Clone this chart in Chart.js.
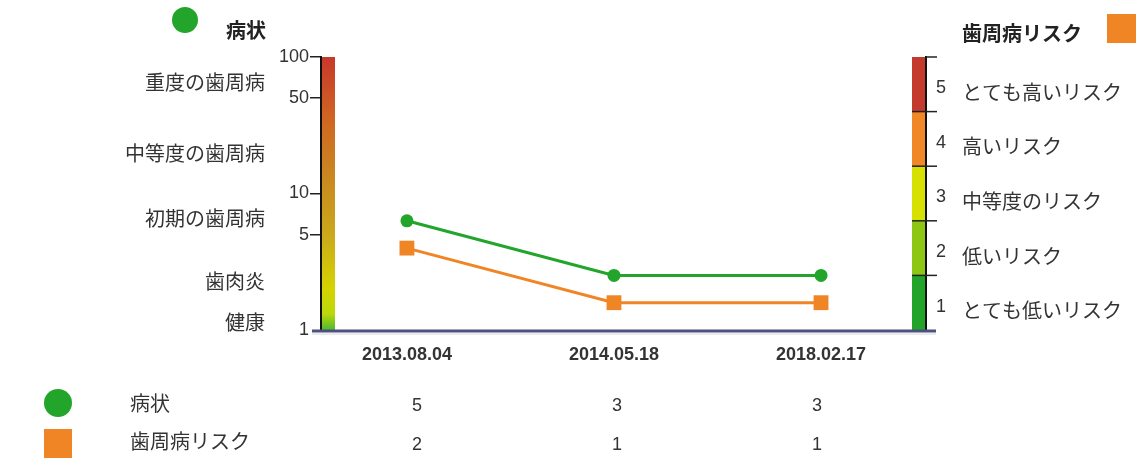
<!DOCTYPE html>
<html lang="ja">
  <head>
    <meta charset="UTF-8">
    <title>病状と歯周病リスク</title>
    <script src="https://cdn.jsdelivr.net/npm/chart.js"></script>
    <style>
      html, body { margin: 0; padding: 0; background: #ffffff; }
      #chart { display: block; }
    </style>
  </head>
  <body>
    <canvas id="chart" width="1144" height="468"></canvas>
    <script>
      // data
      const dates = ["2013.08.04", "2014.05.18", "2018.02.17"];
      const conditionValues = [5, 3, 3];
      const riskValues = [2, 1, 1];
      const conditionTicks = [1, 5, 10, 50, 100];
      const riskTicks = [1, 2, 3, 4, 5];
      const stageLabels = ["健康", "歯肉炎", "初期の歯周病", "中等度の歯周病", "重度の歯周病"];
      const stageLevels = [1.2, 2.7, 5, 7.4, 10];
      const riskLabels = ["とても低いリスク", "低いリスク", "中等度のリスク", "高いリスク", "とても高いリスク"];

      const GREEN = "#22a52a";
      const ORANGE = "#f08526";
      const riskColors = ["#22a42a", "#8dc714", "#d6e100", "#f08828", "#c43b2d"];
      const FONT = '"Liberation Sans", "Noto Sans CJK JP", sans-serif';

      Chart.defaults.font.family = FONT;
      Chart.defaults.color = "#333";

      const decor = {
        id: "decor",
        beforeDatasetsDraw(chart) {
          const { ctx, chartArea: a, scales } = chart;
          const yR = scales.yR;
          ctx.save();

          // left gradient bar
          const g = ctx.createLinearGradient(0, a.bottom, 0, a.top);
          g.addColorStop(0, "#4fb830");
          g.addColorStop(0.06, "#bcd80c");
          g.addColorStop(0.15, "#d4d400");
          g.addColorStop(0.35, "#cba81c");
          g.addColorStop(0.55, "#c98a20");
          g.addColorStop(0.75, "#cf6a22");
          g.addColorStop(1, "#c8382b");
          ctx.fillStyle = g;
          ctx.fillRect(a.left + 1, a.top, 13, a.bottom - a.top);

          // right risk bands
          riskTicks.forEach((n, i) => {
            const top = yR.getPixelForValue(n + 0.5);
            const bot = yR.getPixelForValue(n - 0.5);
            ctx.fillStyle = riskColors[i];
            ctx.fillRect(a.right - 14, top, 13, bot - top);
          });
          ctx.strokeStyle = "#222";
          ctx.lineWidth = 1.5;
          for (let v = 1.5; v < 5.5; v++) {
            const y = yR.getPixelForValue(v);
            ctx.beginPath();
            ctx.moveTo(a.right - 14, y);
            ctx.lineTo(a.right + 11, y);
            ctx.stroke();
          }
          ctx.beginPath();
          ctx.moveTo(a.right, a.top);
          ctx.lineTo(a.right + 11, a.top);
          ctx.stroke();

          // bottom axis line
          ctx.strokeStyle = "rgba(0,0,0,0.08)";
          ctx.lineWidth = 2;
          ctx.beginPath();
          ctx.moveTo(a.left - 9, a.bottom + 4);
          ctx.lineTo(a.right + 10, a.bottom + 4);
          ctx.stroke();
          ctx.strokeStyle = "#4f5082";
          ctx.lineWidth = 3;
          ctx.beginPath();
          ctx.moveTo(a.left - 9, a.bottom + 1);
          ctx.lineTo(a.right + 10, a.bottom + 1);
          ctx.stroke();
          ctx.restore();
        },
        afterDraw(chart) {
          const { ctx, chartArea: a, scales } = chart;
          ctx.save();
          ctx.textBaseline = "middle";

          // headers
          ctx.fillStyle = GREEN;
          ctx.beginPath();
          ctx.arc(185, 20, 13, 0, Math.PI * 2);
          ctx.fill();
          ctx.fillStyle = ORANGE;
          ctx.fillRect(1107, 14, 29, 29);
          ctx.fillStyle = "#222";
          ctx.font = "bold 20px " + FONT;
          ctx.textAlign = "left";
          ctx.fillText("病状", 226, 32);
          ctx.fillText("歯周病リスク", 962, 35);

          // stage names on the left
          ctx.font = "20px " + FONT;
          ctx.fillStyle = "#333";
          ctx.textAlign = "right";
          stageLabels.forEach((s, i) => {
            ctx.fillText(s, a.left - 56, scales.yG.getPixelForValue(stageLevels[i]));
          });

          // risk names on the right
          ctx.textAlign = "left";
          riskLabels.forEach((s, i) => {
            ctx.fillText(s, a.right + 36, scales.yR.getPixelForValue(riskTicks[i]) + 10);
          });

          // table below
          ctx.fillStyle = GREEN;
          ctx.beginPath();
          ctx.arc(58, 403, 14, 0, Math.PI * 2);
          ctx.fill();
          ctx.fillStyle = ORANGE;
          ctx.fillRect(44, 429, 28, 29);
          ctx.fillStyle = "#333";
          ctx.font = "20px " + FONT;
          ctx.fillText("病状", 130, 405);
          ctx.fillText("歯周病リスク", 130, 443);
          ctx.font = "18px " + FONT;
          ctx.textAlign = "center";
          dates.forEach((d, i) => {
            ctx.fillText(String(conditionValues[i]), 417 + 200 * i, 406);
            ctx.fillText(String(riskValues[i]), 417 + 200 * i, 445);
          });
          ctx.restore();
        },
      };

      new Chart(document.getElementById("chart"), {
        type: "line",
        data: {
          datasets: [
            {
              label: "病状",
              data: conditionValues.map((v, i) => ({ x: i, y: v })),
              yAxisID: "yG",
              borderColor: GREEN,
              backgroundColor: GREEN,
              borderWidth: 3,
              pointStyle: "circle",
              pointRadius: 6.5,
              pointBorderWidth: 0,
            },
            {
              label: "歯周病リスク",
              data: riskValues.map((v, i) => ({ x: i, y: v })),
              yAxisID: "yR",
              borderColor: ORANGE,
              backgroundColor: ORANGE,
              borderWidth: 3,
              pointStyle: "rect",
              pointRadius: 10.5,
              pointBorderWidth: 0,
            },
          ],
        },
        options: {
          responsive: false,
          animation: false,
          layout: { padding: { top: 57, left: 0, right: 0, bottom: 0 } },
          plugins: { legend: { display: false }, tooltip: { enabled: false } },
          scales: {
            x: {
              type: "linear",
              min: -0.415,
              max: 2.507,
              afterBuildTicks: (ax) => { ax.ticks = dates.map((d, i) => ({ value: i })); },
              afterFit: (s) => { s.height = 138; },
              ticks: {
                callback: (v) => dates[v],
                font: { size: 18, weight: "bold" },
                color: "#333",
                padding: 14,
                maxRotation: 0,
              },
              grid: { display: false, drawTicks: false },
              border: { display: false },
            },
            y: {
              type: "logarithmic",
              position: "left",
              min: 1,
              max: 100,
              afterBuildTicks: (ax) => { ax.ticks = conditionTicks.map((v) => ({ value: v })); },
              afterFit: (s) => { s.width = 321; },
              ticks: {
                callback: (v) => String(v),
                font: { size: 18 },
                color: "#333",
                padding: 1,
              },
              grid: {
                drawOnChartArea: false,
                drawTicks: true,
                tickLength: 11,
                lineWidth: 1.5,
                color: (c) => (c.tick && c.tick.value === 1 ? "rgba(0,0,0,0)" : "#222"),
              },
              border: { color: "#111", width: 2 },
            },
            yR: {
              type: "linear",
              position: "right",
              min: 0.5,
              max: 5.5,
              afterBuildTicks: (ax) => { ax.ticks = riskTicks.map((v) => ({ value: v })); },
              afterFit: (s) => { s.width = 218; },
              ticks: {
                font: { size: 18 },
                color: "#333",
                padding: 10,
                labelOffset: 4,
              },
              grid: { display: false, drawTicks: false },
              border: { color: "#111", width: 2 },
            },
            yG: {
              type: "linear",
              display: false,
              min: 1,
              max: 11,
            },
          },
        },
        plugins: [decor],
      });
    </script>
  </body>
</html>
